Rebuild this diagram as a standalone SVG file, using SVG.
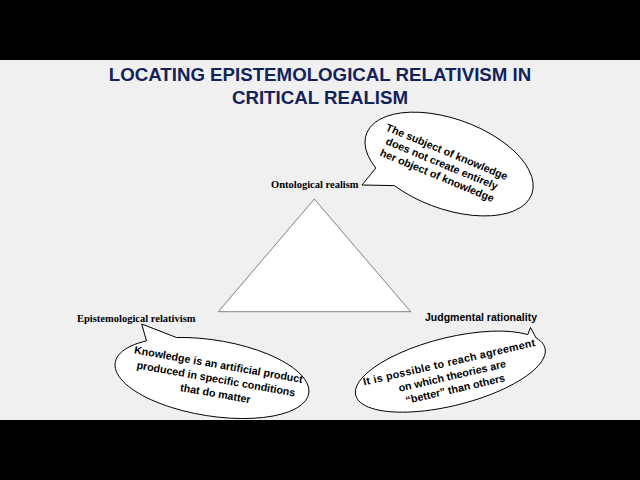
<svg xmlns="http://www.w3.org/2000/svg" width="640" height="480" viewBox="0 0 640 480">
<style>
.title{font-family:"Liberation Sans",Arial,sans-serif;font-weight:bold;font-size:18.7px;fill:#14225a;text-anchor:middle}
.serif{font-family:"Liberation Serif","Times New Roman",serif;font-weight:bold;font-size:10.5px;fill:#000}
.sans{font-family:"Liberation Sans",Arial,sans-serif;font-weight:bold;font-size:10.5px;fill:#000}
.ct{font-family:"Liberation Sans",Arial,sans-serif;font-weight:bold;font-size:10.7px;fill:#000;text-anchor:middle}
.bubble{fill:#fff;stroke:#000;stroke-width:1;stroke-linejoin:round}
</style>
<rect x="0" y="0" width="640" height="480" fill="#f0f0f0"/>
<rect x="0" y="0" width="640" height="60" fill="#000"/>
<rect x="0" y="420" width="640" height="60" fill="#000"/>
<g id="title">
<text class="title" x="320" y="81">LOCATING EPISTEMOLOGICAL RELATIVISM IN</text>
<text class="title" x="320" y="103.5">CRITICAL REALISM</text>
</g>
<g id="triangle">
<polygon points="314.3,199 218.3,311.7 410.7,311.7" fill="#fff" stroke="#7f7f7f" stroke-width="1"/>
</g>
<g id="label-ontological">
<text class="serif" x="271" y="188">Ontological realism</text>
</g>
<g id="label-epistemological">
<text class="serif" x="77" y="322">Epistemological relativism</text>
</g>
<g id="label-judgmental">
<text class="sans" x="425" y="321">Judgmental rationality</text>
</g>
<g id="callout-ontological">
<path class="bubble" d="M362,185 L375.8,168.1 A88 45 20 1 1 394.4,185.6 Z"/>
<g transform="translate(442,163.5) rotate(22.5)">
<text class="ct" x="0" y="-9">The subject of knowledge</text>
<text class="ct" x="0" y="3.8">does not create entirely</text>
<text class="ct" x="0" y="16.6">her object of knowledge</text>
</g>
</g>
<g id="callout-epistemological">
<path class="bubble" d="M141.7,324 L146.5,340.9 A98 38 9 1 0 176.5,337.5 Z"/>
<g transform="translate(216,379) rotate(10)">
<text class="ct" x="0" y="-11">Knowledge is an artificial product</text>
<text class="ct" x="0" y="3.5">produced in specific conditions</text>
<text class="ct" x="2" y="18">that do matter</text>
</g>
</g>
<g id="callout-judgmental">
<path class="bubble" d="M530.5,327.5 L527.8,334.6 A97.5 34 -14 1 0 536.1,338 Z"/>
<g transform="translate(452,375) rotate(-13)">
<text class="ct" x="0" y="-9.5" textLength="176" lengthAdjust="spacing">It is possible to reach agreement</text>
<text class="ct" x="0" y="4.5">on which theories are</text>
<text class="ct" x="0" y="18">“better” than others</text>
</g>
</g>
</svg>
